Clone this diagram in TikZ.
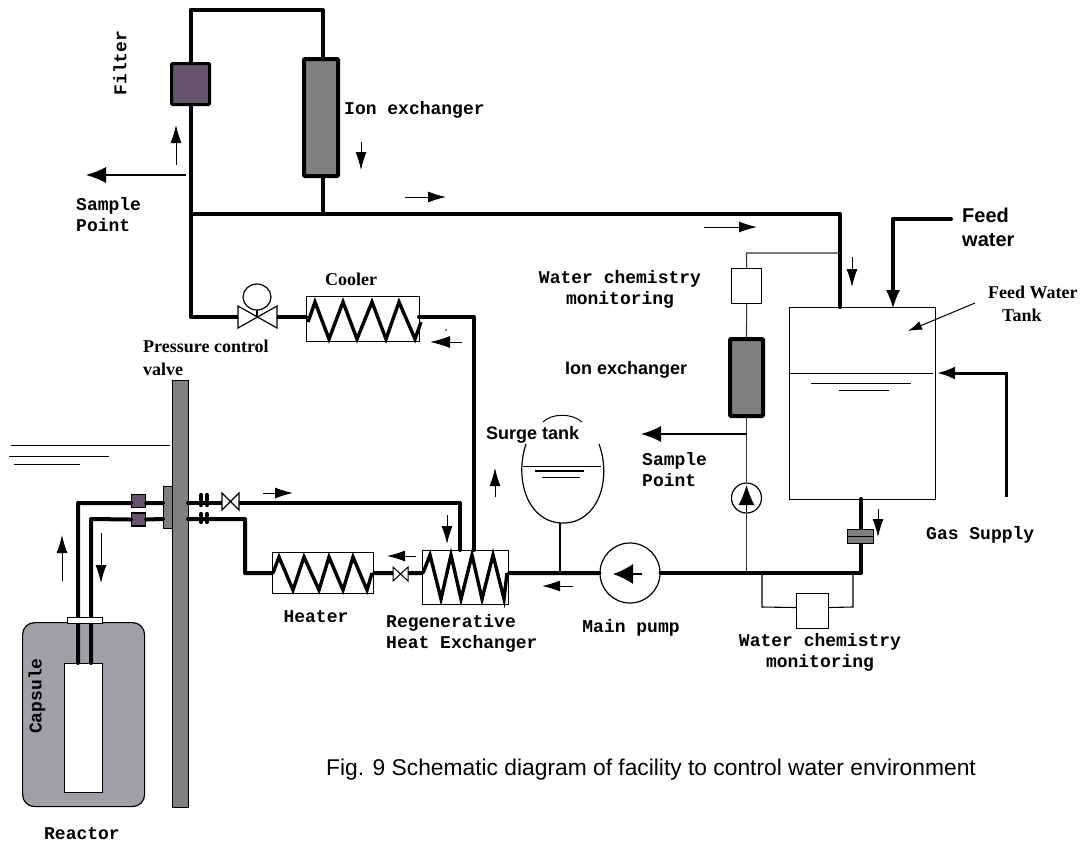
\documentclass[tikz,border=0pt]{standalone}
\usepackage{fontspec}
\setmainfont{Liberation Sans}
\newfontfamily\lblmono{Liberation Mono}
\newfontfamily\lblserif{Liberation Serif}
\usetikzlibrary{positioning}
\usetikzlibrary{calc}
\usetikzlibrary{arrows.meta}
\definecolor{filtercol}{RGB}{102,84,108}
\definecolor{exchcol}{RGB}{128,128,128}
\definecolor{capsulecol}{RGB}{162,160,166}
\tikzstyle{pipe} = [line width=4pt,line join=round,line cap=round]
\tikzstyle{thinpipe} = [line width=1.1pt,black!80]
\tikzstyle{coil} = [line width=3.4pt,line join=miter]
\tikzstyle{level} = [line width=1pt]
\tikzstyle{flow} = [-{Latex[length=18pt,width=11pt]},line width=1pt]
\tikzstyle{bigflow} = [-{Latex[length=20pt,width=16pt]},line width=1.2pt]
\tikzstyle{block} = [draw,rectangle,inner sep=0pt,line width=1.2pt,fill=white,anchor=north west]
\tikzstyle{vessel} = [block,line width=4pt,rounded corners=1pt]
\tikzstyle{lblm} = [font=\lblmono\bfseries\fontsize{18}{21}\selectfont,align=center,inner sep=0pt]
\tikzstyle{lbls} = [font=\lblserif\bfseries\fontsize{18}{22.5}\selectfont,align=left,inner sep=0pt]
\tikzstyle{lbla} = [font=\bfseries\fontsize{18}{22}\selectfont,align=left,inner sep=0pt]
\begin{document}
\begin{tikzpicture}[x=1pt,y=-1pt]
\useasboundingbox (0,0) rectangle (1083,844);
% tanks and blocks
\node [block,minimum width=146pt,minimum height=192pt] (tank) at (789,307) {};
\node [vessel,line width=3pt,fill=filtercol,minimum width=38pt,minimum height=41pt] (filter) at (170,62) {};
\node [vessel,fill=exchcol,minimum width=34pt,minimum height=117pt] (ionup) at (302,57) {};
\node [vessel,fill=exchcol,minimum width=33pt,minimum height=77pt] (ionright) at (728,337) {};
\node [block,minimum width=30pt,minimum height=35pt] (wcmtop) at (731,268) {};
\node [block,minimum width=32pt,minimum height=35pt] (wcmbot) at (796,593) {};
\node [block,minimum width=113pt,minimum height=45pt] (cooler) at (306,296) {};
\node [block,minimum width=86pt,minimum height=54pt] (regen) at (422,550) {};
\node [block,minimum width=101pt,minimum height=41pt] (heater) at (272,552) {};
\node [draw,circle,minimum size=60pt,inner sep=0pt,line width=1.2pt] (mainpump) at (630,573) {};
\node [draw,circle,minimum size=30pt,inner sep=0pt,line width=1.2pt] (subpump) at (746.5,498) {};
\node [draw,rectangle,rounded corners=12pt,fill=capsulecol,minimum width=122pt,minimum height=184pt,anchor=north west,inner sep=0pt,line width=1.2pt] (reactor) at (22,622) {};
\node [block,minimum width=38pt,minimum height=129pt] (capsule) at (64,663) {};
\node [draw,fill=exchcol,minimum width=16pt,minimum height=427pt,anchor=north west,inner sep=0pt,line width=1.2pt] (wall) at (172,380) {};
\node [draw,fill=exchcol,minimum width=9pt,minimum height=42pt,anchor=north west,inner sep=0pt,line width=1pt] (flange) at (163,486) {};
\node [block,fill=filtercol,minimum width=14pt,minimum height=13pt] (jointa) at (131,494) {};
\node [block,fill=filtercol,minimum width=14pt,minimum height=13pt] (jointb) at (131,512.4) {};
% free ends and bends
\coordinate (feedin) at (951,219);
\coordinate (feedturn) at (893,219);
\coordinate (feedend) at (893,308);
\coordinate (gasin) at (1006,497);
\coordinate (gasturn) at (1006,373);
\coordinate (gasend) at (937,373);
\coordinate (n1) at (190.5,214);
\coordinate (n2) at (323,214);
\coordinate (n3) at (840,214);
\coordinate (tankin) at (840,307);
\coordinate (tankout) at (861,499);
\coordinate (topleft) at (190.5,10);
\coordinate (topright) at (323,10);
\coordinate (pcvbend) at (190.5,317);
\coordinate (pcvin) at (238,317);
\coordinate (pcvout) at (277,317);
\coordinate (coolin) at (306,317);
\coordinate (coolout) at (419,317);
\coordinate (coolbend) at (474,317);
\coordinate (regentop) at (474,550);
\coordinate (regenret) at (460,550);
\coordinate (retbend) at (460,503);
\coordinate (valvein) at (222,503);
\coordinate (valveout) at (239,503);
\coordinate (wallup) at (188,503);
\coordinate (walllow) at (188,519);
\coordinate (flangeup) at (163,503);
\coordinate (flangelow) at (163,519);
\coordinate (upbend) at (78,503);
\coordinate (lowbend) at (91,519);
\coordinate (capup) at (78,663);
\coordinate (caplow) at (91,663);
\coordinate (heatbend) at (245,519);
\coordinate (heatbendb) at (245,573);
\coordinate (smallin) at (408,573);
\coordinate (smallout) at (393,573);
\coordinate (bend) at (861,573);
\coordinate (junction) at (560,573);
\coordinate (surgebot) at (560,523);
\coordinate (wcmtee) at (840,253);
\coordinate (wcmbend) at (746.5,253);
\coordinate (pumptee) at (746.5,572);
\coordinate (loopa) at (762,572);
\coordinate (loopb) at (762,607);
\coordinate (loopc) at (853,572);
\coordinate (loopd) at (853,607);
% pipes
\draw [pipe] (filter.north) -- (topleft) -- (topright) -- ([xshift=2pt]ionup.north);
\draw [pipe] ([xshift=2pt]ionup.south) -- (n2);
\draw [pipe] (filter.south) -- (n1) -- (n3) -- (tankin);
\draw [pipe] (n1) -- (pcvbend) -- (pcvin);
\draw [pipe] (pcvout) -- (coolin);
\draw [pipe] (coolout) -- (coolbend) -- (regentop);
\draw [pipe] (regenret) -- (retbend) -- (valveout);
\draw [pipe] (valvein) -- (wallup);
\draw [pipe] (flangeup) -- ([yshift=-2pt]jointa.east);
\draw [pipe] ([yshift=-2pt]jointa.west) -- (upbend) -- (capup);
\draw [pipe] (flangelow) -- (jointb.east);
\draw [pipe] (jointb.west) -- (lowbend) -- (caplow);
\draw [pipe] (walllow) -- (heatbend) -- (heatbendb) -- (heater.west);
\draw [pipe] (heater.east) -- (smallout);
\draw [pipe] (smallin) -- ([yshift=4.6pt]regen.west);
\draw [pipe] ([yshift=4.6pt]regen.east) -- (mainpump.west);
\draw [pipe] (mainpump.east) -- (bend) -- (861,543);
\draw [pipe] (861,529) -- (tankout);
\draw [line width=2.6pt] (junction) -- (surgebot);
\draw [line width=4.4pt,line cap=round] (201,495) -- (201,505) (207,495) -- (207,505) (201,514) -- (201,522) (207,514) -- (207,522);
\draw [pipe] (feedin) -- (feedturn) -- (893,300);
\draw [-{Latex[length=18pt,width=14pt]},line width=1pt] (893,285) -- (feedend);
% reactor head
\node [block,minimum width=35pt,minimum height=6pt] (cap) at (67,617) {};
% thin lines
\draw [thinpipe] (wcmtee) -- (wcmbend) -- (wcmtop.north);
\draw [thinpipe] (wcmtop.south) -- (ionright.north);
\draw [thinpipe] (ionright.south) -- (subpump.north);
\draw [thinpipe] (subpump.south) -- (pumptee);
\draw [line width=1.1pt] (loopa) -- (loopb) -- ([yshift=3.6pt]wcmbot.west);
\draw [line width=1.1pt] (loopc) -- (loopd) -- ([yshift=3.6pt]wcmbot.east);
% trap
\node [block,fill=exchcol,minimum width=26pt,minimum height=14pt] (trap) at (847,529) {};
\draw [line width=1.2pt] (trap.west) -- (trap.east);
% water levels
\draw [level] (789,373) -- (933,373);
\draw [level] (811,383) -- (911,383);
\draw [level] (839,390) -- (889,390);
\draw [level] (11,445) -- (170,445);
\draw [level] (9,456) -- (109,456);
\draw [level] (14,464) -- (80,464);
\draw [level] (523,466) -- (601,466);
\draw [line width=1.5pt] (535,471) -- (584,471);
\draw [level] (542,477) -- (580,477);
% surge tank
\draw [line width=1.2pt] (526,444) .. controls (514,480) and (528,523) .. (563,523) .. controls (598,523) and (612,480) .. (599,444);
\draw [line width=1pt] (543,422) .. controls (552,413) and (572,413) .. (582,422);
% coils
\draw [coil] (308,322) -- (315,302) -- (329,339) -- (343,302) -- (357,339) -- (372,302) -- (386,339) -- (399,302) -- (415,339) -- (421,322);
\draw [coil] (423,573) -- (430,555) -- (441,599) -- (451,555) -- (461,599) -- (472,555) -- (482,599) -- (493,555) -- (504,599) -- (507,573);
\draw [coil] (273,573) -- (279,557) -- (293,590) -- (304,557) -- (319,590) -- (329,557) -- (343,590) -- (353,557) -- (367,590) -- (372,573);
% valves
\draw [line width=1.2pt,fill=white] (238,306) -- (238,328) -- (277,306) -- (277,328) -- cycle;
\draw [line width=1.2pt] (257,317) -- (257,310);
\draw [line width=1.2pt,fill=white] (257,297) ellipse (14pt and 13pt);
\draw [line width=1.2pt,fill=white] (222,493) -- (222,510) -- (239,493) -- (239,510) -- cycle;
\draw [line width=1pt,fill=white] (393,567) -- (393,581) -- (408,567) -- (408,581) -- cycle;
% pump arrows
\draw [-{Latex[length=20pt,width=20pt]},line width=1.2pt] (642,574) -- (613,574);
\draw [-{Latex[length=20pt,width=16pt]},line width=1.2pt] (746.5,512) -- (746.5,485);
% flow arrows
\draw [flow] (176,165) -- (176,125);
\draw [bigflow] (186,175) -- (86,175);
\draw [flow] (361,142) -- (361,170);
\draw [flow] (405,197) -- (446,197);
\draw [flow] (704,227) -- (757,227);
\draw [flow] (852,257) -- (852,287);
\draw [flow,-{Latex[length=20pt,width=12pt]}] (462,342) -- (430,342);
\draw [flow] (447,515) -- (447,544);
\draw [flow] (263,493) -- (293,493);
\draw [flow] (62,581) -- (62,535);
\draw [flow] (101,533) -- (101,583);
\draw [flow] (416,556) -- (387,556);
\draw [flow] (573,586) -- (542,586);
\draw [flow] (495,497) -- (495,468);
\draw [flow] (878,509) -- (878,537);
\draw [bigflow] (746.5,434) -- (641,434);
\draw [-{Latex[length=18pt,width=13pt]},line width=3pt] (gasin) -- (gasturn) -- (gasend);
\draw [-{Latex[length=14pt,width=9pt]},line width=1pt] (975,303) -- (908,331);
\fill (446,330) circle (0.8pt);
% text
\node [lblm,rotate=90] (filterlbl) at (120,63) {Filter};
\node [lblm,anchor=west] (ionuplbl) at (344,110) {Ion exchanger};
\node [lblm,align=left,anchor=west] (samplea) at (76,215) {Sample\\Point};
\node [lbls] (coolerlbl) at (351,279) {Cooler};
\node [lbls,anchor=west] (pcvlbl) at (143,358) {Pressure control\\valve};
\node [lblm] (wcmtoplbl) at (620,289) {Water chemistry\\monitoring};
\node [lbla,anchor=west] (ionrightlbl) at (565,370) {Ion exchanger};
\node [lbla,anchor=west] (surgelbl) at (486,435) {Surge tank};
\node [lblm,align=left,anchor=west] (sampleb) at (642,470) {Sample\\Point};
\node [lbla,anchor=west,font=\bfseries\fontsize{20}{24}\selectfont] (feedlbl) at (962,227) {Feed\\water};
\node [lbls,anchor=west] (fwtlbl) at (988,304) {Feed Water\\\hspace{14pt}Tank};
\node [lblm,anchor=west] (gaslbl) at (926,535) {Gas Supply};
\node [lblm] (heaterlbl) at (316,617) {Heater};
\node [lblm,align=left,anchor=west] (regenlbl) at (386,633) {Regenerative\\Heat Exchanger};
\node [lblm] (mainlbl) at (631,628) {Main pump};
\node [lblm] (wcmbotlbl) at (820,652) {Water chemistry\\monitoring};
\node [lblm,rotate=90] (capsulelbl) at (37,696) {Capsule};
\node [lblm] (reactorlbl) at (82,834) {Reactor};
\node [anchor=west,inner sep=0pt,font=\fontsize{22.8}{26}\selectfont] (caption) at (326,770) {Fig. 9 Schematic diagram of facility to control water environment};
\end{tikzpicture}
\end{document}
